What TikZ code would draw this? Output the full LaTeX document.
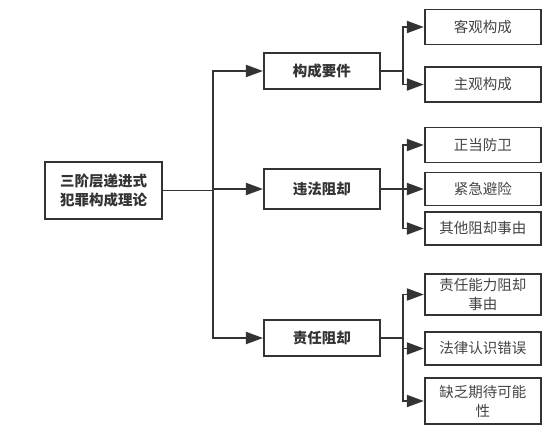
\documentclass[tikz,border=0pt]{standalone}
\usepackage{fontspec}
\setmainfont{Noto Sans CJK SC}
\usepackage{xcolor}
\usetikzlibrary{positioning,arrows.meta}
\definecolor{linegray}{HTML}{333333}
\definecolor{textgray}{HTML}{444444}
\tikzset{
	box/.style={draw=linegray, line width=1.9pt, minimum width=116pt, minimum height=35pt,
		inner sep=2pt, align=center, font=\fontsize{14.5}{19}\selectfont},
	headbox/.style={box, minimum height=36pt, font=\fontsize{14.5}{19}\selectfont\bfseries, text=linegray},
	leafbox/.style={box, text=textgray},
	link/.style={draw=linegray, line width=1.9pt},
	arr/.style={link, -{Triangle[length=17pt,width=12pt]}},
}

\begin{document}
\begin{tikzpicture}
	\useasboundingbox (0,0) rectangle (548pt,-434pt);
	% Define nodes
	\node[headbox, minimum width=117pt, minimum height=57pt] (root) at (103.5pt,-190.5pt) {三阶层递进式\\犯罪构成理论};
	\node[headbox, right=100pt of root, yshift=119.5pt] (gc) {构成要件};
	\node[headbox, right=100pt of root, yshift=1.5pt, minimum height=40pt] (wf) {违法阻却};
	\node[headbox, right=100pt of root, yshift=-147.5pt] (zr) {责任阻却};
	\node[leafbox, right=43pt of gc, yshift=44pt] (kg) {客观构成};
	\node[leafbox, right=43pt of gc, yshift=-13.5pt] (zg) {主观构成};
	\node[leafbox, right=43pt of wf, yshift=44pt] (zd) {正当防卫};
	\node[leafbox, right=43pt of wf, minimum height=33pt] (jj) {紧急避险};
	\node[leafbox, right=43pt of wf, yshift=-39.5pt, minimum height=33pt] (qt) {其他阻却事由};
	\node[leafbox, right=43pt of zr, yshift=43.5pt, minimum height=41pt] (nl) {责任能力阻却\\事由};
	\node[leafbox, right=43pt of zr, yshift=-10.5pt, minimum height=33pt] (cw) {法律认识错误};
	\node[leafbox, right=43pt of zr, yshift=-63pt, minimum height=46pt] (qd) {缺乏期待可能\\性};
	% Forks
	\coordinate[right=50pt of root.east] (f0);
	\coordinate[right=22pt of gc.east] (f1);
	\coordinate[right=22pt of wf.east] (f2);
	\coordinate[right=22pt of zr.east] (f3);
	% Edges
	\draw[link] (root.east) -- (f0);
	\foreach \n in {gc,wf,zr} \draw[arr] (f0) |- (\n);
	\draw[link] (gc.east) -- (f1);
	\foreach \n in {kg,zg} \draw[arr] (f1) |- (\n);
	\draw[link] (wf.east) -- (f2);
	\foreach \n in {zd,jj,qt} \draw[arr] (f2) |- (\n);
	\draw[link] (zr.east) -- (f3);
	\foreach \n in {nl,cw,qd} \draw[arr] (f3) |- (\n);
\end{tikzpicture}
\end{document}
